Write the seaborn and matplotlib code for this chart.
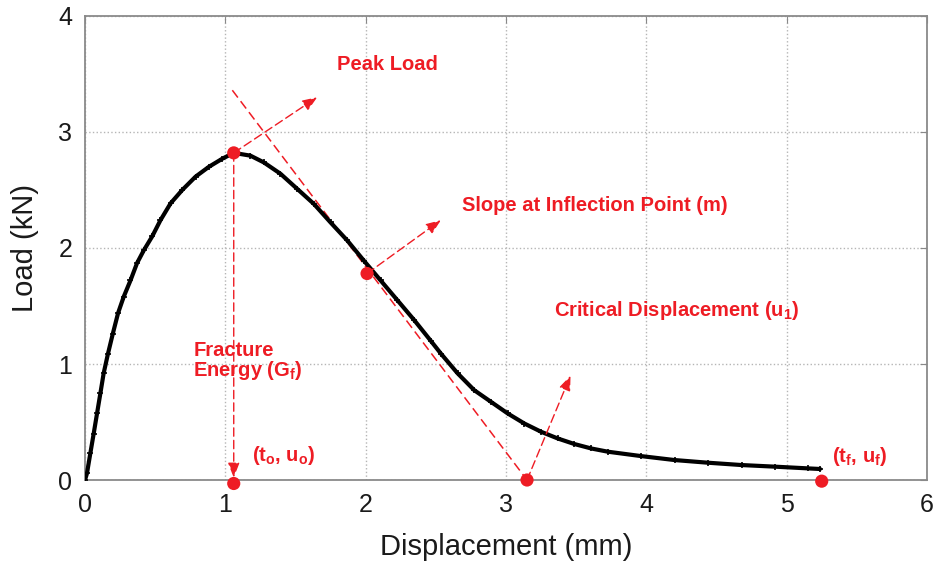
import matplotlib
matplotlib.use("Agg")
import matplotlib.pyplot as plt
import seaborn as sns
import pandas as pd

# ---- data ----
disp = [0.00, 0.014, 0.038, 0.062, 0.086, 0.110, 0.133, 0.164, 0.198, 0.236,
        0.276, 0.324, 0.371, 0.419, 0.479, 0.538, 0.610, 0.693, 0.788, 0.883,
        0.979, 1.060, 1.179, 1.274, 1.393, 1.512, 1.631, 1.750, 1.869, 1.988,
        2.107, 2.226, 2.345, 2.464, 2.536, 2.655, 2.774, 2.893, 3.012, 3.131,
        3.250, 3.369, 3.488, 3.607, 3.726, 3.964, 4.202, 4.440, 4.679, 4.917,
        5.155, 5.238]
load = [0.00, 0.057, 0.23, 0.40, 0.575, 0.75, 0.92, 1.09, 1.26, 1.44,
        1.58, 1.72, 1.87, 1.98, 2.10, 2.24, 2.385, 2.50, 2.615, 2.70,
        2.77, 2.82, 2.796, 2.738, 2.64, 2.51, 2.38, 2.22, 2.065, 1.89,
        1.72, 1.55, 1.38, 1.20, 1.09, 0.92, 0.774, 0.674, 0.574, 0.487,
        0.416, 0.358, 0.310, 0.272, 0.244, 0.206, 0.172, 0.149, 0.129, 0.115,
        0.100, 0.095]

# key points (red dots)
key_x = [1.06, 2.01, 3.15, 1.06, 5.25]
key_y = [2.82, 1.78, 0.00, -0.03, -0.01]

# tangent line at inflection point
tangent_x = [1.05, 3.15]
tangent_y = [3.36, 0.00]

# annotation arrows: (start, end)
arrows = [((1.06, 2.82), (1.655, 3.30)),
          ((2.01, 1.78), (2.536, 2.24)),
          ((3.15, 0.00), (3.46, 0.90)),
          ((1.06, 2.82), (1.06, 0.02))]

labels = [("Peak Load", 1.793, 3.535),
          ("Slope at Inflection Point (m)", 2.686, 2.32),
          ("Critical Displacement (u$_1$)", 3.343, 1.413),
          ("Fracture", 0.771, 1.067),
          ("Energy (G$_f$)", 0.771, 0.895),
          ("(t$_o$, u$_o$)", 1.19, 0.166),
          ("(t$_f$, u$_f$)", 5.32, 0.157)]

x_ticks = [0, 1, 2, 3, 4, 5, 6]
y_ticks = [0, 1, 2, 3, 4]

RED = "#ee1c24"

sns.set_style("white")
plt.rcParams["font.family"] = ["Liberation Sans", "DejaVu Sans"]
plt.rcParams["mathtext.fontset"] = "custom"
plt.rcParams["mathtext.rm"] = "Liberation Sans:bold"
plt.rcParams["mathtext.it"] = "Liberation Sans:bold"
plt.rcParams["mathtext.bf"] = "Liberation Sans:bold"

fig = plt.figure(figsize=(9.35, 5.69), dpi=100)
ax = fig.add_axes([0.0909, 0.1564, 0.9005, 0.8155])

df = pd.DataFrame({"Displacement": disp, "Load": load})
sns.lineplot(data=df, x="Displacement", y="Load", ax=ax, color="black",
             lw=3.0, marker="+", markersize=5, markeredgewidth=1.2,
             mec="black", zorder=3)

# tangent dashed line
ax.plot(tangent_x, tangent_y, color=RED, lw=1.1, ls=(0, (6, 3)), zorder=2)

for (sx, sy), (ex, ey) in arrows:
    ax.annotate("", xy=(ex, ey), xytext=(sx, sy),
                arrowprops=dict(arrowstyle="-|>,head_length=0.9,head_width=0.35",
                                color=RED, lw=1.0, ls=(0, (6, 3)),
                                shrinkA=0, shrinkB=0),
                zorder=4)

kdf = pd.DataFrame({"x": key_x, "y": key_y})
sns.scatterplot(data=kdf, x="x", y="y", ax=ax, color=RED, s=90,
                edgecolor="none", zorder=5, clip_on=False)

for txt, tx, ty in labels:
    ax.text(tx, ty, txt, color=RED, fontsize=14.5, fontweight="bold",
            ha="left", va="baseline", zorder=6)

ax.set_xlim(0, 6)
ax.set_ylim(0, 4)
ax.set_xticks(x_ticks)
ax.set_yticks(y_ticks)
ax.set_xlabel("Displacement (mm)", fontsize=21, color="#1a1a1a", labelpad=12)
ax.set_ylabel("Load (kN)", fontsize=21, color="#1a1a1a", labelpad=14)
ax.tick_params(axis="both", labelsize=18, direction="in", length=5,
               color="#888888", labelcolor="#1a1a1a", pad=9,
               top=True, right=True)
ax.grid(True, color="#b5b5b5", ls=":", lw=1.0)
for s in ax.spines.values():
    s.set_visible(True)
    s.set_color("#8a8a8a")
    s.set_linewidth(1.3)

fig.savefig("out.png", dpi=100)
